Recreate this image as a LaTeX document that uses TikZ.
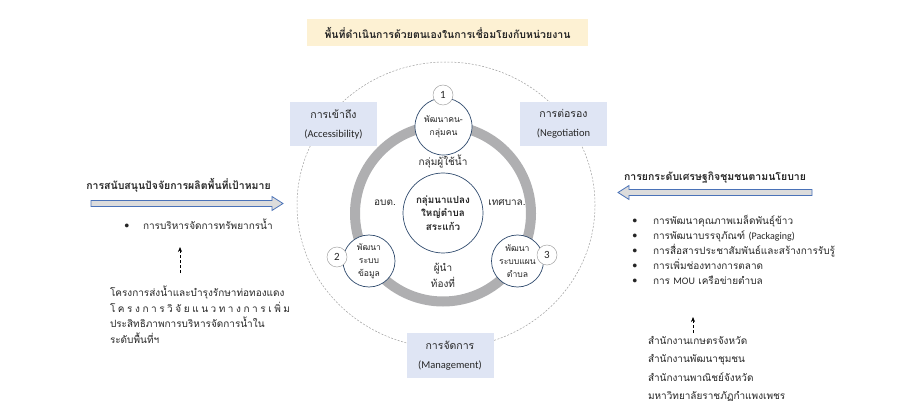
\documentclass[tikz,border=0pt]{standalone}
\usepackage{fontspec}
\setmainfont[Script=Thai]{Loma}
\newfontfamily\latf{Carlito}
\newcommand\lat[1]{{\latf #1}}
\usetikzlibrary{arrows.meta}
\definecolor{navy}{HTML}{2F4A6D}
\definecolor{ringgray}{HTML}{AFAFB1}
\definecolor{boxblue}{HTML}{DFE5F4}
\definecolor{titlebg}{HTML}{FDF1D3}
\definecolor{arrowblue}{HTML}{4A72B8}
\definecolor{arrowfill}{HTML}{DCDCDC}
\definecolor{txt}{HTML}{262626}
\newcommand\dist[1]{\hbox to 180pt{#1}}
\begin{document}
\begin{tikzpicture}[x=1pt,y=-1pt,
  every node/.style={inner sep=0pt,outer sep=0pt,text=txt},
  lbl/.style={font=\fontsize{10}{12}\selectfont,text height=7pt,text depth=2pt},
  bul/.style={font=\fontsize{10}{12}\selectfont,anchor=west,text height=7pt,text depth=2pt},
  ttl/.style={font=\fontsize{10.5}{12}\selectfont\bfseries,text height=7pt,text depth=2pt},
  boxlbl/.style={fill=boxblue,minimum width=87pt,minimum height=44pt,align=center,font=\fontsize{10.5}{19}\selectfont},
  stage/.style={circle,draw=navy,line width=0.7pt,fill=white,align=center,font=\fontsize{8.6}{13}\selectfont},
  badge/.style={circle,draw=gray!70,line width=0.5pt,fill=white,minimum size=20pt,font=\latf\fontsize{11}{12}\selectfont},
  dasharrow/.style={densely dashed,line width=0.6pt,-{Stealth[length=5pt,width=4pt]}},
  blockarrow/.style={draw=arrowblue,fill=arrowfill,line width=0.8pt,line join=miter}
]
\useasboundingbox (0,0) rectangle (921,414);

% title
\node[fill=titlebg,minimum width=281pt,minimum height=27pt,font=\fontsize{10.5}{12}\selectfont\bfseries] (title) at (447.5,32.5) {พื้นที่ดำเนินการด้วยตนเองในการเชื่อมโยงกับหน่วยงาน};

% outer dashed ellipse
\draw[gray!75,line width=0.5pt,dash pattern=on 2pt off 1.5pt] (446,205) ellipse [x radius=149,y radius=143];

% ring
\draw[ringgray,line width=10pt] (443,213.5) circle [radius=88];

% center
\node[stage,minimum size=80pt,font=\fontsize{9.8}{13.5}\selectfont\bfseries] (core) at (443,213) {กลุ่มนาแปลง\\ใหญ่ตำบล\\สระแก้ว};

% stage nodes
\node[stage,minimum size=57pt] (s1) at (443.5,126.5) {พัฒนาคน-\\กลุ่มคน};
\node[stage,minimum size=52pt] (s2) at (369,261) {พัฒนา\\ระบบ\\ข้อมูล};
\node[stage,minimum size=52pt] (s3) at (517.5,261) {พัฒนา\\ระบบแผน\\ตำบล};

\node[badge] (b1) at (443,95) {1};
\node[badge] (b2) at (337,257) {2};
\node[badge] (b3) at (547,255) {3};

% ring labels
\node[lbl] (l1) at (443,163) {กลุ่มผู้ใช้น้ำ};
\node[lbl] (l2) at (385,203) {อบต.};
\node[lbl] (l3) at (507,203) {เทศบาล.};
\node[align=center,font=\fontsize{10}{16}\selectfont] (l4) at (443,275) {ผู้นำ\\ท้องที่};

% boxes
\node[boxlbl] (acc) at (333.5,124) {การเข้าถึง\\\lat{(Accessibility)}};
\node[boxlbl] (neg) at (563.5,124) {การต่อรอง\\\lat{(Negotiation}};
\node[boxlbl,minimum height=45pt] (man) at (450,355.5) {การจัดการ\\\lat{(Management)}};

% left side
\node[ttl] (lt) at (178.5,187) {การสนับสนุนปัจจัยการผลิตพื้นที่เป้าหมาย};
\draw[blockarrow] (91,200.5) -- (272,200.5) -- (272,196.5) -- (283,203.5) -- (272,210.5) -- (272,206.5) -- (91,206.5) -- cycle;
\node[lbl,font=\fontsize{11}{12}\selectfont] (lb) at (127,227) {•};
\node[bul] (lb1) at (143,227) {การบริหารจัดการทรัพยากรน้ำ};
\coordinate (la1) at (180,273);
\coordinate (la2) at (180,247);
\draw[dasharrow] (la1) -- (la2);
\node[anchor=north west,align=left,font=\fontsize{10}{15.7}\selectfont] (lp) at (110,286) {โครงการส่งน้ำและบำรุงรักษาท่อทองแดง\\
\dist{โ\hfil ค\hfil ร\hfil ง\hfil ก\hfil า\hfil ร\hfil วิ\hfil จั\hfil ย\hfil แ\hfil น\hfil ว\hfil ท\hfil า\hfil ง\hfil ก\hfil า\hfil ร\hfil เ\hfil พิ่\hfil ม}\\
ประสิทธิภาพการบริหารจัดการน้ำใน\\
ระดับพื้นที่ฯ};

% right side
\node[ttl] (rt) at (715,178) {การยกระดับเศรษฐกิจชุมชนตามนโยบาย};
\draw[blockarrow] (812,189.5) -- (629,189.5) -- (629,185.5) -- (618,192.5) -- (629,199.5) -- (629,195.5) -- (812,195.5) -- cycle;
\node[lbl,font=\fontsize{11}{12}\selectfont] (rb1) at (635,222) {•};
\node[bul] (r1) at (653,222) {การพัฒนาคุณภาพเมล็ดพันธุ์ข้าว};
\node[lbl,font=\fontsize{11}{12}\selectfont] (rb2) at (635,237) {•};
\node[bul] (r2) at (653,237) {การพัฒนาบรรจุภัณฑ์ \lat{(Packaging)}};
\node[lbl,font=\fontsize{11}{12}\selectfont] (rb3) at (635,252) {•};
\node[bul] (r3) at (653,252) {การสื่อสารประชาสัมพันธ์และสร้างการรับรู้};
\node[lbl,font=\fontsize{11}{12}\selectfont] (rb4) at (635,267) {•};
\node[bul] (r4) at (653,267) {การเพิ่มช่องทางการตลาด};
\node[lbl,font=\fontsize{11}{12}\selectfont] (rb5) at (635,282) {•};
\node[bul] (r5) at (653,282) {การ \lat{MOU} เครือข่ายตำบล};
\coordinate (ra1) at (693,333);
\coordinate (ra2) at (693,317);
\draw[dasharrow] (ra1) -- (ra2);
\node[bul] (o1) at (648,342) {สำนักงานเกษตรจังหวัด};
\node[bul] (o2) at (648,360) {สำนักงานพัฒนาชุมชน};
\node[bul] (o3) at (648,378.5) {สำนักงานพาณิชย์จังหวัด};
\node[bul] (o4) at (648,397) {มหาวิทยาลัยราชภัฏกำแพงเพชร};
\end{tikzpicture}
\end{document}
